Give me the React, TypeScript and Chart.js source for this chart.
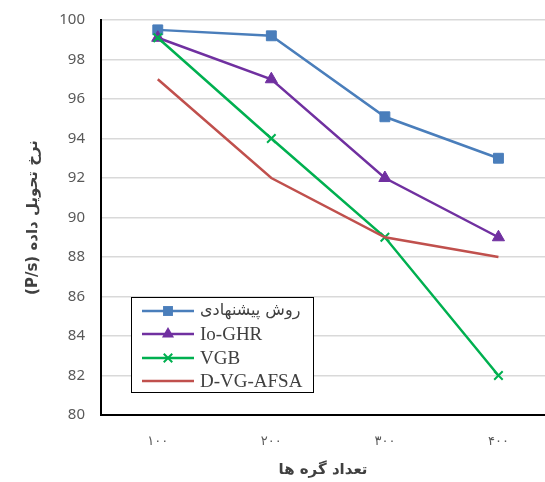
import React, { useEffect, useRef } from "react";
import { Chart, registerables } from "chart.js";
Chart.register(...registerables);

const categories = ["۱۰۰", "۲۰۰", "۳۰۰", "۴۰۰"];
const seriesNames = ["روش پیشنهادی", "Io-GHR", "VGB", "D-VG-AFSA"];
const proposed = [99.5, 99.2, 95.1, 93.0];
const ioGhr = [99.1, 97.0, 92.0, 89.0];
const vgb = [99.1, 94.0, 89.0, 82.0];
const dvgAfsa = [97.0, 92.0, 89.0, 88.0];
const yTitle = "\u202Bنرخ تحویل داده (P/s)\u202C";
const xTitle = "تعداد گره ها";

const colors = ["#4a7ebb", "#7030a0", "#00b050", "#c0504d"];
const pointStyles: any[] = ["rect", "triangle", "crossRot", false];
const pointRadii = [7, 7, 6, 0];

function drawMarker(ctx: CanvasRenderingContext2D, style: any, x: number, y: number, r: number, color: string) {
  if (!style) return;
  ctx.save();
  ctx.fillStyle = color;
  ctx.strokeStyle = color;
  ctx.lineWidth = 2;
  ctx.beginPath();
  if (style === "rect") {
    const s = Math.SQRT1_2 * r;
    ctx.rect(x - s, y - s, 2 * s, 2 * s);
    ctx.fill();
  } else if (style === "triangle") {
    let rad = 0;
    ctx.moveTo(x + Math.sin(rad) * r, y - Math.cos(rad) * r);
    rad += (2 * Math.PI) / 3;
    ctx.lineTo(x + Math.sin(rad) * r, y - Math.cos(rad) * r);
    rad += (2 * Math.PI) / 3;
    ctx.lineTo(x + Math.sin(rad) * r, y - Math.cos(rad) * r);
    ctx.closePath();
    ctx.fill();
  } else if (style === "crossRot") {
    const s = Math.cos(Math.PI / 4) * r;
    ctx.moveTo(x - s, y - s);
    ctx.lineTo(x + s, y + s);
    ctx.moveTo(x + s, y - s);
    ctx.lineTo(x - s, y + s);
    ctx.stroke();
  }
  ctx.restore();
}

const legendPlugin = {
  id: "boxLegend",
  afterDraw(chart: any) {
    const ctx: CanvasRenderingContext2D = chart.ctx;
    const bx = 131, by = 297, bw = 182, bh = 95;
    ctx.save();
    ctx.fillStyle = "#ffffff";
    ctx.fillRect(bx, by, bw, bh);
    ctx.strokeStyle = "#000000";
    ctx.lineWidth = 1;
    ctx.strokeRect(bx + 0.5, by + 0.5, bw, bh);
    const rows = [311, 334, 358, 381];
    chart.data.datasets.forEach((ds: any, i: number) => {
      const y = rows[i];
      ctx.strokeStyle = colors[i];
      ctx.lineWidth = 2.5;
      ctx.beginPath();
      ctx.moveTo(142, y);
      ctx.lineTo(194, y);
      ctx.stroke();
      drawMarker(ctx, pointStyles[i], 168, y, pointRadii[i], colors[i]);
      ctx.fillStyle = "#404040";
      const isArabic = /[\u0600-\u06FF]/.test(ds.label);
      ctx.font = isArabic
        ? "16px 'DejaVu Sans', serif"
        : "19px 'Liberation Serif', serif";
      ctx.textBaseline = "middle";
      ctx.textAlign = "left";
      ctx.fillText(ds.label, 200, y + (isArabic ? 0 : 1));
    });
    ctx.restore();
  },
};

export default function App() {
  const ref = useRef<HTMLCanvasElement>(null);
  useEffect(() => {
    document.body.style.margin = "0";
    const series = [proposed, ioGhr, vgb, dvgAfsa];
    const chart = new Chart(ref.current!, {
      type: "line",
      data: {
        datasets: series.map((s, i) => ({
          label: seriesNames[i],
          data: s.map((v, j) => ({ x: j + 1, y: v })),
          borderColor: colors[i],
          backgroundColor: colors[i],
          borderWidth: 2.5,
          pointStyle: pointStyles[i],
          pointRadius: pointRadii[i],
          pointBorderWidth: i === 2 ? 2 : 1,
          fill: false,
          tension: 0,
          order: 4 - i,
        })),
      },
      options: {
        responsive: false,
        animation: false,
        layout: { autoPadding: false, padding: { top: 20, right: 0, bottom: 0, left: 0 } },
        plugins: { legend: { display: false }, tooltip: { enabled: false } },
        scales: {
          x: {
            type: "linear",
            min: 0.5,
            max: 4.41,
            afterBuildTicks: (scale: any) => {
              scale.ticks = categories.map((_, i) => ({ value: i + 1 }));
            },
            afterFit: (scale: any) => {
              scale.height = 67;
              scale.paddingLeft = 0;
              scale.paddingRight = 0;
            },
            grid: { display: false, drawTicks: false },
            border: { display: true, color: "#000000", width: 2 },
            ticks: {
              padding: 19,
              color: "#595959",
              font: { size: 13, family: "'DejaVu Sans', sans-serif" },
              callback: (v: any) => categories[Math.round(v) - 1] ?? "",
              maxRotation: 0,
              autoSkip: false,
            },
            title: {
              display: true,
              text: xTitle,
              color: "#404040",
              font: { size: 15, weight: "bold", family: "'DejaVu Sans', sans-serif" },
              padding: { top: 0, bottom: 3 },
            },
          },
          y: {
            min: 80,
            max: 100,
            ticks: {
              stepSize: 2,
              padding: 16,
              color: "#595959",
              font: { size: 15, family: "'Noto Sans', sans-serif" },
            },
            afterFit: (scale: any) => {
              scale.width = 101;
              scale.paddingTop = 0;
              scale.paddingBottom = 0;
            },
            grid: { color: "#d9d9d9", lineWidth: 1.5, drawTicks: false },
            border: { display: true, color: "#000000", width: 2 },
            title: {
              display: true,
              text: yTitle,
              color: "#404040",
              font: { size: 15, weight: "bold", family: "'DejaVu Sans', sans-serif" },
              padding: { top: 24, bottom: 0 },
            },
          },
        },
      },
      plugins: [legendPlugin],
    });
    return () => chart.destroy();
  }, []);
  return (
    <div style={{ position: "absolute", left: 0, top: 0, width: 545, height: 482 }}>
      <canvas ref={ref} width={545} height={482} />
    </div>
  );
}
